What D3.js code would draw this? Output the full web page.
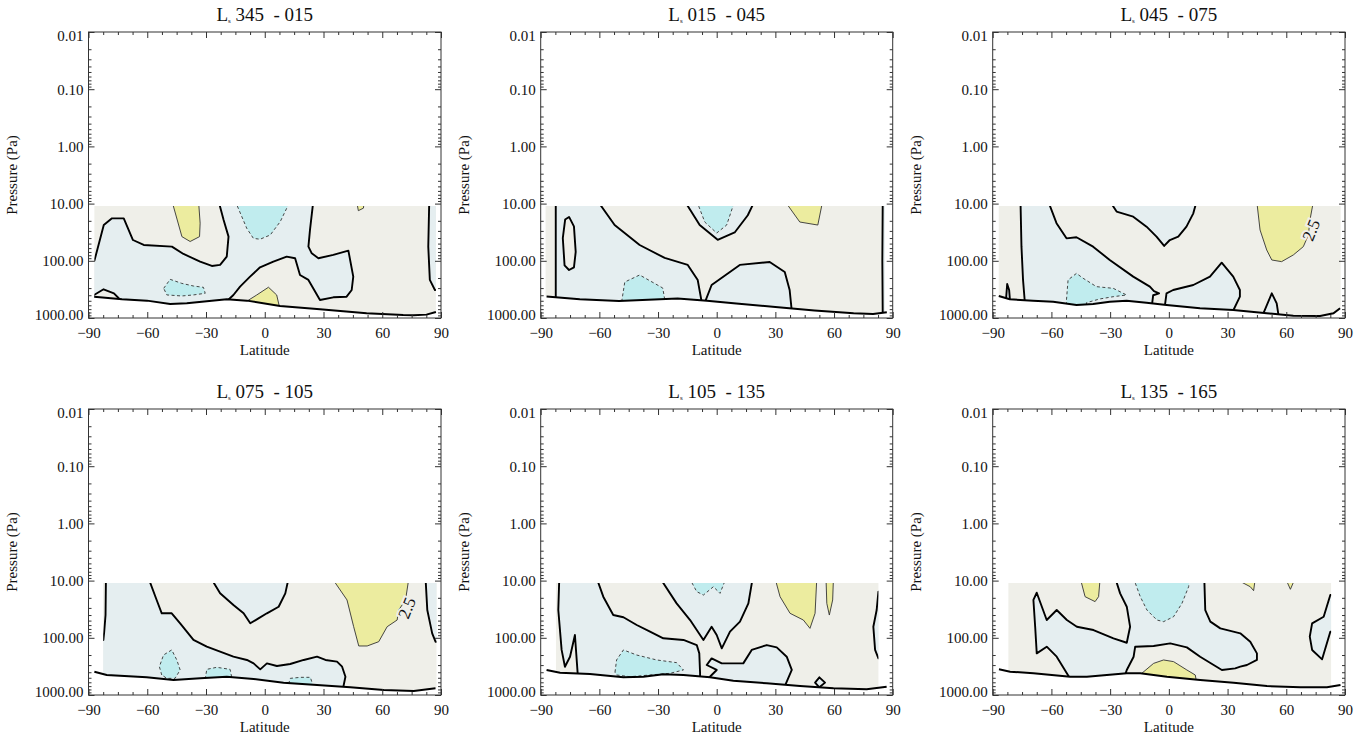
<!DOCTYPE html>
<html><head><meta charset="utf-8">
<script src="https://cdn.jsdelivr.net/npm/d3@7/dist/d3.min.js"></script>
<style>
body{margin:0;background:#fff;}
svg text{font-family:"Liberation Serif","Times New Roman",serif;fill:#111;}
</style>
</head><body>
<svg id="chart" width="1368" height="741"></svg>
<script>
// ---------- data ----------
const seasonStart = ["345","015","045","075","105","135"];
const seasonEnd   = ["015","045","075","105","135","165"];
const latTicks = [-90,-60,-30,0,30,60,90];
const pTicks = [0.01,0.1,1,10,100,1000];
const pTickLabels = ["0.01","0.10","1.00","10.00","100.00","1000.00"];
const dataTopP = 11;                 // uppermost level of the analysed field (Pa)
const fillLat = [[-87,87.4],[-87.5,86],[-86.9,87.8],[-82.5,87.7],[-82.2,82.7],[-82,82.9]];

// surface pressure [lat, Pa]
const surface1 = [[-87.1,424],[-72.9,471],[-60.1,497],[-48.3,569],[-39.8,554],[-29.6,511],[-19.4,471],[-9.1,497],[7.8,616],[28.2,705],[52,828],[70.7,885],[76,892],[82.6,873],[87.4,785]];
const surface2 = [[-87,420],[-70,470],[-50,505],[-35,480],[-20,455],[-5,500],[10,560],[30,640],[50,740],[70,830],[80,850],[87,790]];
const surface3 = [[-86.9,412],[-81.3,471],[-69.4,498],[-59.1,518],[-47.2,592],[-38.7,569],[-30.2,518],[-21.6,498],[-11.4,540],[-1.2,592],[15.9,677],[32.9,724],[50,828],[63.6,910],[77.3,922],[84.1,828],[87.5,677]];
const surface4 = [[-87,391],[-80.7,447],[-60.3,491],[-46.6,547],[-33,512],[-19.4,479],[-5.7,525],[9.6,608],[26.7,668],[43.7,735],[60.8,818],[76.1,851],[87.2,765]];
const surface5 = [[-87,365],[-80.1,407],[-64.8,430],[-47.7,491],[-37.5,479],[-27.3,435],[-17,447],[-3.4,491],[8.5,562],[25.6,625],[42.6,697],[59.7,765],[76.7,796],[86.9,715]];
const surface6 = [[-86.8,356],[-81.1,391],[-69.2,418],[-50.4,479],[-41.9,479],[-31.7,447],[-21.5,418],[-14.6,418],[-1,479],[16,547],[33.1,608],[50.1,697],[67.2,735],[80.8,735],[87.7,668]];

// contour regions: band "neg" (-2.5..0), "pos" (0..2.5), "low" (< -2.5), "high" (> 2.5); outline [lat, Pa]
const regions1 = [
 {band:"neg", pts:[[-95,100],[-87,100],[-82.2,23.7],[-78,18.1],[-72,18.1],[-67.3,43.3],[-61.8,52.8],[-47.4,56.6],[-41.5,75.9],[-33,103.5],[-27,123],[-22.8,118],[-19.4,84.5],[-18.5,37.8],[-21,19.3],[-23.6,9],[24.8,9],[23.1,28.9],[22.3,56.6],[24,74],[27.4,90.4],[35,79],[42.7,66.4],[45.2,189],[44.4,324],[41.8,424],[35,435],[28.2,484],[22.3,216],[18,177],[15.5,90.4],[11.2,84.5],[4.4,103.5],[-2.4,130],[-7.5,189],[-12.6,283],[-16,396],[-18.6,480],[-18.6,1500],[-95,1500]]},
 {band:"pos", pts:[[-95,400],[-87.4,400],[-82.3,315],[-77,370],[-73.8,480],[-73.8,1500],[-95,1500]]},
 {band:"neg", pts:[[84,9],[83.5,56.6],[84.3,216],[86.9,324],[95,324],[95,9]]},
 {band:"low", pts:[[-15.1,9],[-9.2,27],[-5.8,40.5],[-2.4,42],[2.8,35.4],[7.9,20.7],[13,9]]},
 {band:"low", pts:[[-51.6,303],[-48.3,211],[-42.4,248],[-36.4,276],[-31.3,291],[-30.4,370],[-36.4,395],[-42.4,412],[-50,395]]},
 {band:"high", pts:[[-47.4,9],[-42.3,37.8],[-38.1,46],[-33.3,37.8],[-33,22],[-33.8,9]]},
 {band:"high", pts:[[-9.2,510],[-4.1,396],[1.9,290],[6.1,396],[7.5,640],[7.5,1500],[-9.2,1500]]},
 {band:"high", pts:[[46.9,9],[47.8,13.3],[50.4,12],[50.8,9]]}
];
const regions2 = [
 {band:"neg", pts:[[-82.3,9],[-60.9,9],[-52.2,23.7],[-39.4,53],[-26.6,89],[-14.8,118],[-9.7,217],[-7.7,520],[-7.7,1500],[-82.3,1500]]},
 {band:"pos", pts:[[-78.7,40],[-77.5,19],[-75.5,17.1],[-73,25],[-72.1,70],[-73,130],[-75.5,145],[-77.8,120]]},
 {band:"neg", pts:[[-16.4,9],[-8.7,23.7],[0.5,43],[9.2,32],[15.9,16],[19.4,9]]},
 {band:"neg", pts:[[-6.1,540],[-2.6,265],[11.8,118],[27.1,105],[34.8,157],[37.3,324],[38.4,760],[38.4,1500],[-6.1,1500]]},
 {band:"neg", pts:[[84.9,9],[84.7,100],[84.9,900],[95,900],[95,9]]},
 {band:"low", pts:[[-10.2,9],[-6.1,21],[0,32.7],[5.1,23.7],[9.2,9]]},
 {band:"low", pts:[[-48.6,520],[-47,235],[-39.4,177],[-27.6,299],[-26.6,470],[-26.6,1500],[-48.6,1500]]},
 {band:"high", pts:[[34.8,9],[42.5,21],[51.7,23.7],[54.2,9]]}
];
const regions3 = [
 {band:"neg", pts:[[-75.8,9],[-61.7,9],[-57.4,22],[-52.3,40.5],[-47.2,38.8],[-38.7,56.6],[-30.2,96.8],[-18.2,189],[-9.7,283],[-7.6,340],[-5,370],[-8,400],[-8.5,545],[-8.5,1500],[-73.6,1500],[-73.6,520],[-74.5,216],[-75.3,56.6]]},
 {band:"neg", pts:[[-83.2,480],[-82.6,254],[-81.6,324],[-81.2,480],[-81.2,1500],[-83.2,1500]]},
 {band:"neg", pts:[[-2,600],[-1.2,370],[2.2,324],[12.5,265],[21,189],[27,108],[32.9,189],[36.3,324],[36.3,424],[32.9,740],[32.9,1500],[-2,1500]]},
 {band:"neg", pts:[[-30.2,9],[-26.7,13.8],[-18.2,16.9],[-11.4,25.3],[-6.3,37.8],[-2.4,55],[0.5,43.3],[4.8,37.8],[9,25.3],[12.5,14.8],[14.2,9]]},
 {band:"neg", pts:[[48.3,830],[52.6,370],[55.1,554],[56,880],[56,1500],[48.3,1500]]},
 {band:"low", pts:[[-52.3,600],[-52.3,480],[-51.5,216],[-47.2,166],[-43.8,202],[-37,283],[-28.4,303],[-21.6,396],[-28.4,424],[-35.3,465],[-42.1,540],[-42.1,1500],[-52.3,1500]]},
 {band:"high", pts:[[44.9,9],[46.6,28.9],[50,64.7],[52.6,96.8],[57.6,103.5],[63.6,79],[68.7,56.6],[71.3,35.4],[72.1,19.3],[73.9,9]]}
];
const regions4 = [
 {band:"neg", pts:[[-95,9],[-59.4,9],[-55.2,21.8],[-52.6,37.3],[-47.5,37.3],[-43.2,55.8],[-36.4,109],[-29.6,143],[-22.8,175],[-16,214],[-9.1,244],[-5.7,280],[-2.3,356],[1.1,280],[6.2,311],[13,287],[19.9,244],[26.7,214],[31,244],[36.9,261],[39.5,320],[41.2,479],[40,760],[40,1500],[-95,1500]]},
 {band:"pos", pts:[[-95,9],[-81.1,9],[-81.3,40],[-82,80],[-82.4,109],[-95,109]]},
 {band:"neg", pts:[[-27.5,9],[-22.8,16.7],[-16,26.7],[-10.8,37.3],[-7.4,55.8],[-3.2,45.7],[1.1,37.3],[7.1,28.6],[10.5,16.7],[12.2,9]]},
 {band:"neg", pts:[[82.1,9],[83,32.7],[85.5,83.6],[87.2,117],[95,117],[95,9]]},
 {band:"high", pts:[[34.3,9],[42,21.8],[45.4,64],[48,139],[52.3,139],[58.2,117],[62.5,64],[67.6,48.9],[68.4,32.7],[71.9,21.8],[73.6,9]]},
 {band:"low", pts:[[-52.6,447],[-53.8,320],[-51.7,200],[-47.5,163],[-44.9,244],[-43.2,365],[-45.8,512],[-50,512]]},
 {band:"low", pts:[[-30.4,530],[-29.6,356],[-24.5,328],[-17.7,356],[-16.8,500],[-16.8,1500],[-30.4,1500]]},
 {band:"low", pts:[[12.2,640],[13,512],[18.2,491],[23.3,491],[24.6,680],[24.6,1500],[12.2,1500]]}
];
const regions5 = [
 {band:"neg", pts:[[-80.5,9],[-61.4,9],[-58,19.1],[-52.9,40],[-47.7,43.8],[-40.9,59.7],[-34.1,78.2],[-27.3,102],[-17,109],[-10.2,134],[-8.9,187],[-8.5,418],[-8.5,1500],[-71,1500],[-71.1,418],[-72.5,89.3],[-75,214],[-77.6,320],[-79.3,163],[-81,32.7]]},
 {band:"neg", pts:[[-29,9],[-20.5,25],[-13.6,48.9],[-6.8,109],[-2.6,64],[0,89.3],[2.6,153],[6.8,78.2],[11.9,52.2],[16.2,25],[18.4,9]]},
 {band:"neg", pts:[[-4.5,520],[0,365],[-5.1,299],[-2.6,229],[2.6,280],[13.6,280],[17.9,163],[25.6,134],[30.7,147],[35.8,214],[38.4,365],[35,680],[35,1500],[-4.5,1500]]},
 {band:"neg", pts:[[50.3,608],[52.5,491],[55.4,608],[52.5,735]]},
 {band:"neg", pts:[[84,15.6],[82.7,15.6],[81.8,32.7],[80.1,64],[81,163],[82.7,229],[84,229]]},
 {band:"low", pts:[[-14,9],[-10.2,15.6],[-6.8,17.9],[-1.7,12.8],[1.7,16.7],[4.8,9]]},
 {band:"low", pts:[[-52,400],[-51.2,244],[-47.7,163],[-40.9,200],[-30.7,244],[-20.5,272],[-17,365],[-23.9,418],[-34.1,447],[-44.3,479],[-51.2,447]]},
 {band:"high", pts:[[29.8,9],[32.4,19.1],[37.5,37.3],[44.3,48.9],[47.7,68.4],[50.3,37.3],[51.2,9]]},
 {band:"high", pts:[[55.9,9],[56.3,25],[57.6,40],[59.3,21.8],[59.7,9]]}
];
const regions6 = [
 {band:"neg", pts:[[-50.4,520],[-57.3,214],[-62.4,143],[-67.5,187],[-68.3,64],[-69.2,21.8],[-67.5,16.3],[-62.4,48.9],[-57.3,32.7],[-52.1,48.9],[-47,64],[-38.5,73.1],[-28.3,102],[-21.5,122],[-19.8,64],[-21.5,28.6],[-24.9,16.7],[-27.4,9],[18.1,9],[18.6,32.7],[21.2,52.2],[26.3,68.4],[36.5,83.6],[41.6,117],[45,187],[45,244],[39.9,299],[36.5,320],[33.9,342],[27.1,365],[22.9,299],[16,214],[9.2,147],[0.7,125],[-7.8,139],[-17.2,143],[-18,214],[-21.5,365],[-22.3,440],[-22.3,1500],[-50.4,1500]]},
 {band:"neg", pts:[[84,17.9],[82.5,17.9],[79.1,42.8],[73.2,55.8],[72,95.5],[73.2,163],[78.3,238],[82.5,78.2],[84,78.2]]},
 {band:"low", pts:[[-18.1,9],[-14.6,19.1],[-11.2,32.7],[-6.1,48.9],[-2.7,52.2],[2.4,42.8],[6.7,25],[10.1,12.8],[10.6,9]]},
 {band:"high", pts:[[-45.3,9],[-42.8,19.1],[-37.7,23.3],[-35.9,19.1],[-35.1,9]]},
 {band:"high", pts:[[-14.6,440],[-7.8,280],[-2.7,244],[2.4,261],[9.2,365],[13.5,447],[14,560],[14,1500],[-14.6,1500]]},
 {band:"high", pts:[[33.1,9],[41.6,12.8],[43.3,15],[44.2,9]]},
 {band:"high", pts:[[59.5,9],[62.1,14.2],[64.6,9]]}
];
const contourLabels = [{panel:2, lat:72.6, p:29, text:"2.5"},{panel:3, lat:72.5, p:30, text:"2.5"}];

const surfaces = [surface1,surface2,surface3,surface4,surface5,surface6];
const regions = [regions1,regions2,regions3,regions4,regions5,regions6];

// ---------- drawing ----------
const bandFill = {neg:"#e5eef0", pos:"#efefe9", low:"#c0ecee", high:"#ecec9f"};
const boxes = [
 {x0:88.5,x1:441,y0:32,y1:318},{x0:540.7,x1:892.7,y0:32,y1:318},{x0:992.7,x1:1345,y0:32,y1:318},
 {x0:88.5,x1:441,y0:409,y1:695},{x0:540.7,x1:892.7,y0:409,y1:695},{x0:992.7,x1:1345,y0:409,y1:695}];
const svg = d3.select("#chart");
const defs = svg.append("defs");
const latMinor = d3.range(-90,90.1,7.5).filter(v=>v%30!==0);
const pMinor = [];
for (let d=-2; d<3; d++) for (let m=2; m<10; m++) pMinor.push(m*Math.pow(10,d));
const FONT = '"Liberation Serif","Times New Roman",serif';

boxes.forEach((b,i)=>{
  const x = d3.scaleLinear().domain([-90,90]).range([b.x0,b.x1]);
  const y = d3.scaleLog().domain([0.01,1000]).range([b.y0,b.y1]);
  const line = d3.line().x(d=>x(d[0])).y(d=>y(d[1]));
  const surf = surfaces[i];
  defs.append("clipPath").attr("id","box"+i).append("rect")
    .attr("x",x(fillLat[i][0])).attr("y",y(dataTopP))
    .attr("width",x(fillLat[i][1])-x(fillLat[i][0])).attr("height",b.y1+30-y(dataTopP));
  const above = [[-95,0.01],[-95,surf[0][1]],...surf,[95,surf[surf.length-1][1]],[95,0.01]];
  defs.append("clipPath").attr("id","srf"+i).append("path").attr("d",line(above)+"Z");
  const g = svg.append("g").attr("clip-path",`url(#box${i})`).append("g").attr("clip-path",`url(#srf${i})`);
  g.append("rect").attr("x",x(-95)).attr("y",y(1)).attr("width",x(95)-x(-95)).attr("height",b.y1-y(1)+40)
    .attr("fill",bandFill.pos);
  regions[i].forEach(r=>{
    g.append("path").attr("d",line(r.pts)+"Z").attr("fill",bandFill[r.band]).attr("stroke","none");
  });
  regions[i].forEach(r=>{
    const p = g.append("path").attr("d",line(r.pts)+"Z").attr("fill","none");
    if (r.band==="neg"||r.band==="pos") p.attr("stroke","#000").attr("stroke-width",1.9).attr("stroke-linejoin","round");
    else if (r.band==="low") p.attr("stroke","#333").attr("stroke-width",0.9).attr("stroke-dasharray","3,2.5");
    else p.attr("stroke","#333").attr("stroke-width",0.9);
  });
  contourLabels.filter(l=>l.panel===i).forEach(l=>{
    g.append("text").attr("transform",`translate(${x(l.lat)},${y(l.p)}) rotate(-68)`)
     .attr("text-anchor","middle").attr("dy","0.35em").attr("font-size",17)
     .attr("stroke",bandFill.pos).attr("stroke-width",4).attr("paint-order","stroke")
     .text(l.text);
  });
  svg.append("path").attr("d",line(surf)).attr("fill","none").attr("stroke","#000").attr("stroke-width",2);

  const styleAxis = sel => { sel.select(".domain").remove(); sel.selectAll("line").attr("stroke","#333"); sel.selectAll("text").attr("font-family",FONT).attr("font-size",15).attr("fill","#111"); };
  svg.append("g").attr("transform",`translate(0,${b.y1})`)
    .call(d3.axisBottom(x).tickValues(latTicks).tickSize(-6).tickPadding(9).tickFormat(d3.format("d"))).call(styleAxis);
  svg.append("g").attr("transform",`translate(0,${b.y1})`)
    .call(d3.axisBottom(x).tickValues(latMinor).tickSize(-3).tickFormat("")).call(styleAxis);
  svg.append("g").attr("transform",`translate(0,${b.y0})`)
    .call(d3.axisTop(x).tickValues(latTicks).tickSize(-6).tickFormat("")).call(styleAxis);
  svg.append("g").attr("transform",`translate(0,${b.y0})`)
    .call(d3.axisTop(x).tickValues(latMinor).tickSize(-3).tickFormat("")).call(styleAxis);
  const yl = svg.append("g").attr("transform",`translate(${b.x0},0)`)
    .call(d3.axisLeft(y).tickValues(pTicks).tickSize(-6).tickPadding(5).tickFormat((d,k)=>pTickLabels[k])).call(styleAxis);
  yl.selectAll("text").attr("dy",(d,k)=> k===0 ? "0.58em" : (k===pTicks.length-1 ? "0.07em" : "0.32em"));
  svg.append("g").attr("transform",`translate(${b.x0},0)`)
    .call(d3.axisLeft(y).tickValues(pMinor).tickSize(-3).tickFormat("")).call(styleAxis);
  svg.append("g").attr("transform",`translate(${b.x1},0)`)
    .call(d3.axisRight(y).tickValues(pTicks).tickSize(-6).tickFormat("")).call(styleAxis);
  svg.append("g").attr("transform",`translate(${b.x1},0)`)
    .call(d3.axisRight(y).tickValues(pMinor).tickSize(-3).tickFormat("")).call(styleAxis);
  svg.append("rect").attr("x",b.x0).attr("y",b.y0).attr("width",b.x1-b.x0).attr("height",b.y1-b.y0)
    .attr("fill","none").attr("stroke","#333").attr("stroke-width",1);

  const cx = (b.x0+b.x1)/2;
  const t = svg.append("text").attr("x",cx).attr("y",b.y0-11).attr("text-anchor","middle")
    .attr("font-size",19).style("white-space","pre");
  t.append("tspan").text("L");
  t.append("tspan").attr("font-size",7).attr("dy",2).text("s");
  t.append("tspan").attr("dy",-2).text(" "+seasonStart[i]+"  - "+seasonEnd[i]);
  svg.append("text").attr("x",cx).attr("y",b.y1+37).attr("text-anchor","middle").attr("font-size",15).text("Latitude");
  svg.append("text").attr("transform",`translate(${b.x0-72},${(b.y0+b.y1)/2}) rotate(-90)`)
    .attr("text-anchor","middle").attr("font-size",15).text("Pressure (Pa)");
});
</script>
</body></html>
